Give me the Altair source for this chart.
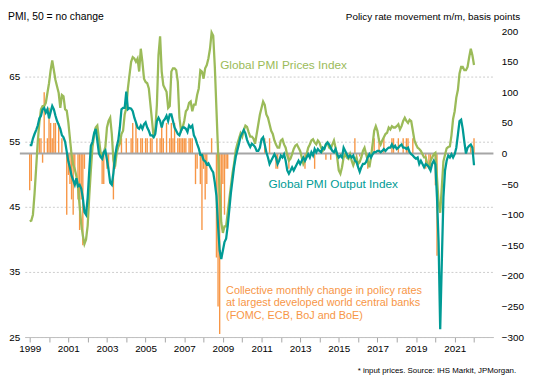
import altair as alt
import pandas as pd

# ---------------- data (monthly, Jan 1999 .. Jan 2022) ----------------
START_YEAR = 1999

# Global PMI Prices Index (input prices), left axis
prices = [
    42.8, 42.9, 43.8, 47.0, 51.0, 55.0, 58.0, 60.0, 60.5, 60.5, 61.0, 62.5,  # 1999
    64.0, 66.0, 67.5, 66.0, 64.5, 63.5, 62.5, 60.2, 62.2, 62.0, 60.0, 59.8,  # 2000
    58.0, 55.5, 53.0, 51.5, 50.8, 49.7, 48.0, 45.2, 42.4, 40.6, 39.3, 40.0,  # 2001
    42.1, 46.7, 50.7, 54.2, 56.0, 57.2, 57.5, 55.5, 53.4, 52.7, 53.4, 54.2,  # 2002
    57.2, 58.2, 58.7, 56.2, 52.2, 51.2, 53.2, 54.2, 54.7, 56.2, 56.7, 59.2,  # 2003
    60.2, 63.2, 65.3, 67.3, 68.0, 67.8, 67.3, 67.8, 65.8, 69.3, 67.3, 64.7,  # 2004
    64.2, 64.0, 63.2, 60.7, 58.2, 55.7, 56.7, 60.7, 68.3, 71.2, 65.8, 63.7,  # 2005
    63.2, 62.7, 60.2, 60.5, 65.8, 66.3, 66.3, 66.0, 64.2, 58.7, 56.7, 57.2,  # 2006
    58.2, 59.7, 60.0, 61.0, 61.2, 59.7, 60.7, 60.7, 62.2, 63.2, 66.0, 65.8,  # 2007
    64.7, 66.3, 66.8, 67.8, 69.3, 71.8, 71.3, 66.5, 60.0, 53.5, 47.2, 42.6,  # 2008
    41.0, 42.0, 42.0, 44.1, 46.2, 48.2, 50.2, 51.7, 53.7, 54.7, 55.5, 56.3,  # 2009
    55.8, 56.8, 57.5, 57.3, 56.5, 55.8, 55.8, 55.5, 54.7, 56.2, 57.7, 59.2,  # 2010
    60.2, 61.2, 60.7, 59.2, 58.7, 57.7, 56.7, 56.2, 55.2, 54.6, 54.1, 54.1,  # 2011
    55.2, 55.4, 54.6, 54.1, 52.9, 52.1, 52.4, 53.1, 53.9, 54.4, 54.6, 54.1,  # 2012
    53.6, 52.6, 51.6, 52.1, 53.1, 54.1, 54.6, 55.2, 55.4, 54.9, 54.6, 55.2,  # 2013
    54.9, 54.1, 53.6, 53.9, 54.6, 54.9, 54.1, 53.9, 54.6, 55.2, 54.1, 52.6,  # 2014
    50.6, 50.1, 51.1, 52.6, 53.1, 52.6, 52.4, 53.1, 52.1, 51.4, 52.1, 52.6,  # 2015
    51.6, 51.9, 52.6, 53.6, 54.1, 53.1, 52.1, 51.1, 52.6, 54.6, 56.7, 57.4,  # 2016
    56.7, 55.2, 54.6, 55.2, 55.7, 56.2, 56.4, 57.2, 56.9, 57.4, 57.2, 57.2,  # 2017
    57.4, 57.7, 56.9, 57.4, 58.2, 58.7, 58.2, 57.9, 58.4, 58.2, 56.7, 55.2,  # 2018
    54.6, 54.1, 53.9, 53.6, 53.1, 52.6, 52.6, 51.6, 51.1, 52.1, 52.6, 53.1,  # 2019
    53.3, 49.5, 45.5, 44.1, 48.0, 52.0, 53.0, 54.0, 54.2, 54.3, 56.0, 58.5,  # 2020
    59.7, 61.8, 63.0, 65.5, 66.5, 66.5, 66.0, 66.0, 66.5, 68.0, 69.3, 68.3,  # 2021
    66.8,                                                                    # 2022
]

# Global PMI Output Index, left axis
output = [
    54.5, 54.5, 55.5, 56.2, 56.8, 57.5, 58.6, 59.0, 60.0, 60.2, 59.5, 60.0,  # 1999
    58.6, 59.6, 60.5, 60.0, 59.0, 58.2, 57.6, 57.0, 56.0, 55.7, 55.0, 53.5,  # 2000
    52.0, 51.0, 49.8, 49.1, 48.4, 49.4, 48.2, 48.4, 47.8, 46.4, 44.2, 43.8,  # 2001
    46.4, 50.6, 54.4, 55.0, 56.3, 57.0, 55.2, 53.2, 52.7, 52.4, 53.4, 53.7,  # 2002
    52.2, 50.7, 48.7, 48.4, 50.2, 52.7, 54.2, 55.2, 57.2, 60.0, 60.2, 60.2,  # 2003
    62.7, 60.0, 60.2, 60.1, 59.7, 58.7, 58.0, 57.2, 57.0, 57.5, 57.0, 57.7,  # 2004
    58.0, 57.2, 56.7, 56.0, 56.0, 55.7, 56.2, 58.2, 58.7, 58.2, 57.2, 58.2,  # 2005
    58.5, 59.0, 58.2, 59.2, 59.2, 58.2, 57.2, 56.7, 56.2, 56.0, 56.7, 57.2,  # 2006
    57.2, 57.0, 56.5, 57.5, 57.2, 57.5, 56.0, 55.5, 54.7, 54.0, 53.0, 53.0,  # 2007
    52.2, 52.0, 51.5, 51.7, 51.2, 50.7, 50.3, 48.7, 46.7, 42.1, 38.3, 37.0,  # 2008
    38.3, 39.6, 40.1, 42.1, 44.6, 47.2, 49.2, 51.2, 52.7, 53.7, 54.7, 55.8,  # 2009
    56.3, 56.8, 56.3, 55.3, 54.7, 54.2, 54.7, 54.5, 54.2, 53.6, 53.6, 54.1,  # 2010
    55.4, 55.7, 54.6, 53.4, 52.6, 51.6, 52.1, 52.6, 53.1, 52.6, 51.6, 52.1,  # 2011
    52.9, 52.6, 53.1, 52.1, 50.6, 50.1, 50.6, 51.1, 50.6, 51.1, 51.6, 52.1,  # 2012
    51.6, 52.1, 52.6, 52.1, 52.6, 53.1, 52.6, 53.4, 52.9, 53.9, 53.4, 53.9,  # 2013
    53.6, 53.4, 54.1, 53.9, 54.6, 54.9, 54.6, 54.1, 53.6, 53.4, 53.9, 53.1,  # 2014
    52.6, 52.9, 52.6, 54.1, 53.6, 53.1, 52.6, 52.9, 52.6, 52.9, 52.1, 51.9,  # 2015
    51.1, 50.4, 51.1, 51.6, 51.6, 51.9, 52.6, 53.1, 52.6, 53.1, 53.4, 53.4,  # 2016
    53.6, 53.6, 53.4, 53.6, 53.9, 53.6, 53.9, 54.1, 54.1, 54.6, 54.1, 54.4,  # 2017
    53.9, 54.1, 54.4, 54.6, 54.1, 54.1, 53.9, 54.1, 53.4, 53.1, 52.9, 52.6,  # 2018
    52.4, 52.6, 51.6, 52.1, 51.6, 51.1, 51.6, 51.4, 51.1, 50.6, 51.6, 52.1,  # 2019
    51.5, 46.5, 39.5, 26.2, 36.5, 46.5, 50.6, 52.1, 52.9, 52.6, 53.1, 52.6,  # 2020
    53.1, 54.1, 56.1, 58.2, 58.4, 57.0, 55.0, 53.2, 54.1, 54.4, 54.6, 54.1,  # 2021
    51.4,                                                                    # 2022
]

# Collective monthly change in policy rates (bp), right axis
policy_bp = [
    -60, -45, 0, 0, 0, 0, 25, 25, -15, 100, 0, 25,          # 1999
    75, 50, 25, 50, 50, 0, 50, 0, 25, 0, 0, -100,           # 2000
    -35, -50, -75, -100, -25, 0, -75, -125, -75, -150, -25, 0,  # 2001
    0, 0, 0, 0, 0, 0, 0, 0, 0, -50, -50, 0,                 # 2002
    -25, -25, 0, 0, -75, -25, 0, 0, 0, 25, 0, 0,            # 2003
    25, 0, 0, 25, 50, 0, 50, 25, 0, 25, 25, 0,              # 2004
    25, 25, 0, 25, 25, 0, 0, 25, 0, 25, 50, 25,             # 2005
    0, 50, 0, 25, 50, 25, 50, 0, 25, 25, 25, 25,            # 2006
    25, 25, 0, 25, 25, 25, 0, -50, -25, 0, -50, -125,       # 2007
    -25, -75, -50, 0, 0, 25, 0, 0, -170, -250, -295, -100,  # 2008
    -50, -100, -25, -25, 0, 0, 0, 0, 0, 0, 0, 0,            # 2009
    0, 0, 0, 0, 0, 0, 0, 0, 0, 0, 0, 0,                     # 2010
    0, 0, 25, 0, 0, 25, 0, 0, 0, -25, -25, 0,               # 2011
    0, 0, 0, 0, 0, -25, 0, 0, 0, 0, 0, 0,                   # 2012
    0, 0, 0, -25, 0, 0, 0, 0, 0, -25, 0, 0,                 # 2013
    0, 0, 0, 0, -10, 0, 0, -10, 0, 0, 0, 0,                 # 2014
    0, 0, 0, 0, 0, 0, 0, 0, 0, 0, 25, -10,                  # 2015
    0, -5, 0, 0, 0, 0, -25, 0, 0, 0, 25, 0,                 # 2016
    0, 25, 0, 0, 25, 0, 0, 0, 0, 25, 25, 0,                 # 2017
    0, 25, 0, 0, 25, 0, 25, 25, 0, 0, 25, 0,                # 2018
    0, 0, 0, 0, 0, 0, -25, 0, -25, -25, 0, 0,               # 2019
    -52, -167, 0, 0, 0, 0, 0, 0, 0, 0, 0, 0,                # 2020
    0, 0, 0, 0, 0, 0, 0, 0, 0, 0, 15, 0,                    # 2021
    25,                                                     # 2022
]

left_ticks = [25, 35, 45, 55, 65]
right_ticks = [-300, -250, -200, -150, -100, -50, 0, 50, 100, 150, 200]
year_ticks = list(range(1999, 2023))

n = min(len(prices), len(output), len(policy_bp))
df = pd.DataFrame({
    "t": [START_YEAR + i / 12 for i in range(n)],
    "prices": prices[:n],
    "output": output[:n],
    "bp": policy_bp[:n],
})

GREEN = "#9bbb59"
TEAL = "#009b95"
ORANGE = "#f79646"
FONT = "Liberation Sans"
W, H = 475, 310

x_scale = alt.Scale(domain=[1999, 2022.75], nice=False, zero=False)
left_scale = alt.Scale(domain=[25, 72], nice=False, zero=False)
right_scale = alt.Scale(domain=[-300, 200], nice=False, zero=False)

x_axis = alt.Axis(values=year_ticks, format="d",
                  labelExpr="datum.value % 2 == 1 ? datum.label : ''",
                  grid=False, tickSize=5, tickColor="#a6a6a6",
                  domainColor="#bfbfbf", labelPadding=2, labelFontSize=10,
                  labelFlush=False, labelOverlap=False, title=None)
left_axis = alt.Axis(orient="left", values=left_ticks, grid=True,
                     gridDash=[2, 2], gridColor="#cccccc", ticks=False,
                     domain=False, labelPadding=5, labelFontSize=10, title=None)
right_axis = alt.Axis(orient="right", values=right_ticks, grid=False,
                      ticks=False, domain=False, labelAlign="left",
                      labelPadding=8, labelFontSize=10, title=None)

X = alt.X("t:Q", scale=x_scale, axis=x_axis)

bars = alt.Chart(df).mark_bar(color=ORANGE, size=1.4).encode(
    x=X, y=alt.Y("bp:Q", scale=right_scale, axis=right_axis))
zero_line = alt.Chart(pd.DataFrame({"bp": [0]})).mark_rule(
    color="#a6a6a6", strokeWidth=2).encode(
    y=alt.Y("bp:Q", scale=right_scale, axis=right_axis),
    x=alt.value(-5), x2=alt.value(W))

green_line = alt.Chart(df).mark_line(color=GREEN, strokeWidth=2.3).encode(
    x=X, y=alt.Y("prices:Q", scale=left_scale, axis=left_axis))
teal_line = alt.Chart(df).mark_line(color=TEAL, strokeWidth=2.3).encode(
    x=X, y=alt.Y("output:Q", scale=left_scale, axis=left_axis))

one = pd.DataFrame({"k": [0]})


def label(text, x, y, color="#000000", size=10, align="left",
          baseline="middle", line_height=13):
    return alt.Chart(one).mark_text(
        align=align, baseline=baseline, fontSize=size, font=FONT,
        color=color, lineHeight=line_height).encode(
        x=alt.value(x), y=alt.value(y), text=alt.value(text))


texts = [
    label("PMI, 50 = no change", -17, -14, size=10.5),
    label("Policy rate movement m/m, basis points", 502, -14, size=10,
          align="right"),
    label("Global PMI Prices Index", 198, 34, color=GREEN, size=12),
    label("Global PMI Output Index", 247, 155, color=TEAL, size=12),
    label(["Collective monthly  change in policy rates",
           "at largest developed world  central banks",
           "(FOMC, ECB, BoJ and BoE)"], 204, 257, color=ORANGE, size=11,
          baseline="top"),
    label("* input prices.  Source: IHS Markit,  JPMorgan.", 498, 344,
          size=8, align="right"),
]

right_layer = alt.layer(bars, zero_line)
left_layer = alt.layer(green_line, teal_line, *texts)

chart = alt.layer(right_layer, left_layer).resolve_scale(
    y="independent"
).properties(
    width=W, height=H,
    autosize=alt.AutoSizeParams(type="none"),
    padding={"left": 17, "top": 21, "right": 32, "bottom": 39},
    background="white",
).configure(font=FONT).configure_view(stroke=None).configure_axis(
    labelFont=FONT, labelColor="#000000")

chart.save("out.html", embed_options={"renderer": "svg", "actions": False})
